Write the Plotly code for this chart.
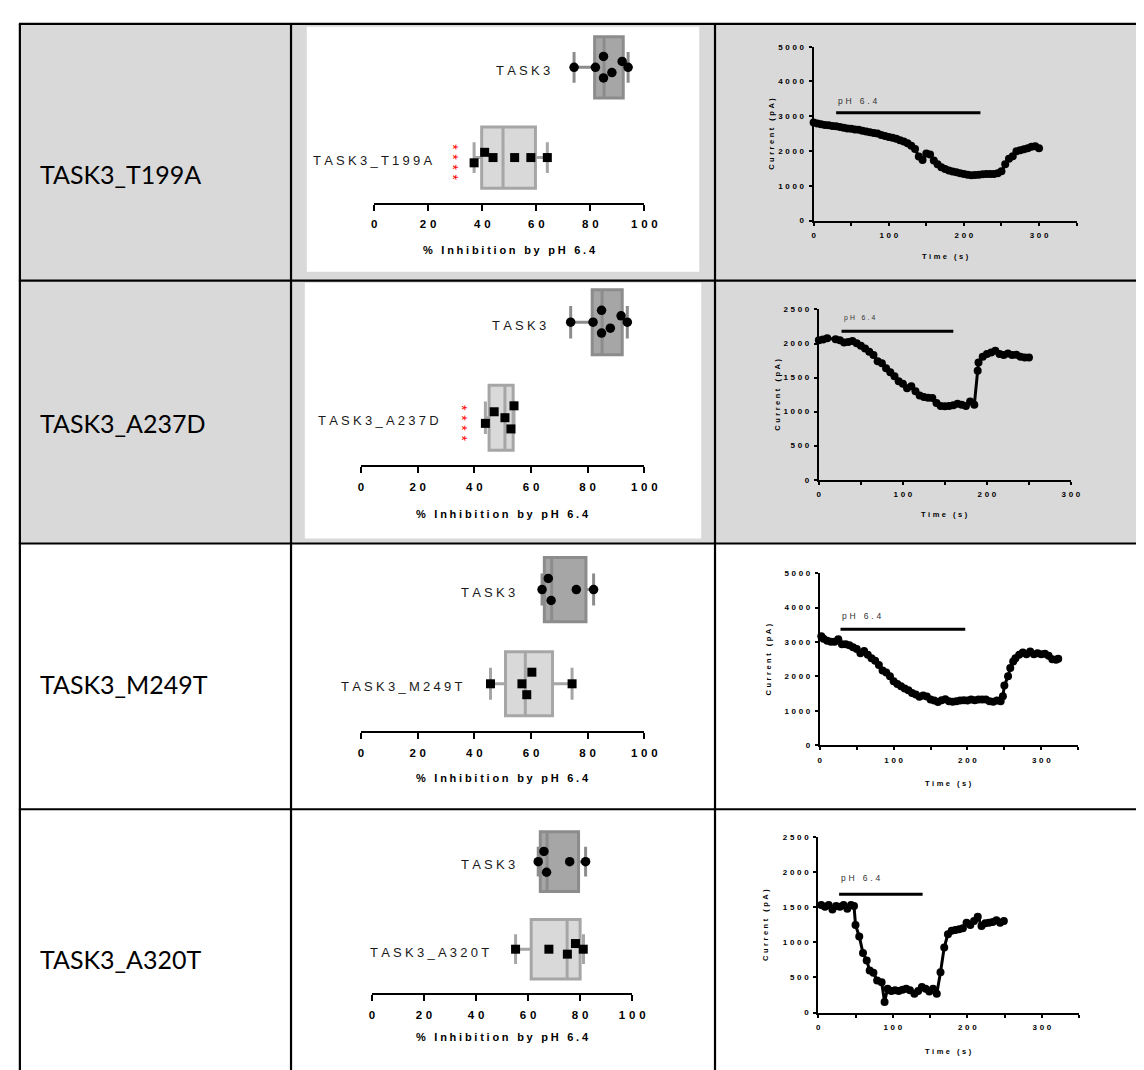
import plotly.graph_objects as go

W, H = 1144, 1070


def px(x):
    return x / W


def py(y):
    return 1 - y / H


def track(s, sep="\u2004"):
    return sep.join(s)


# ---------------- data ----------------
row_labels = ["TASK3_T199A", "TASK3_A237D", "TASK3_M249T", "TASK3_A320T"]
ctrl_name = "TASK3"
signif = ["****", "****", "", ""]

# % inhibition by pH 6.4 (individual cells)
task3_a = [74.0, 81.9, 84.9, 84.9, 88.0, 91.8, 94.0]
task3_b = [63.9, 66.1, 67.1, 76.0, 82.1]
t199a = [37.0, 40.9, 44.0, 52.0, 58.0, 64.1]
a237d = [43.9, 47.0, 50.8, 52.9, 54.0]
m249t = [45.7, 56.8, 58.5, 60.3, 74.5]
a320t = [55.2, 68.0, 75.1, 78.2, 81.2]

# box statistics: [min, q1, median, q3, max]
stats_task3_a = [74.0, 81.6, 85.1, 92.2, 94.0]
stats_task3_b = [63.9, 64.7, 67.3, 79.4, 82.1]
stats_t199a = [37.0, 39.8, 47.7, 59.7, 64.1]
stats_a237d = [43.9, 45.2, 50.8, 53.7, 54.0]
stats_m249t = [45.7, 51.0, 58.0, 67.6, 74.5]
stats_a320t = [55.2, 61.2, 75.0, 80.0, 81.3]

box_ticks = [0, 20, 40, 60, 80, 100]

# current traces (time s, current pA)
time_1 = list(range(0, 301, 5))
current_1 = [2820, 2790, 2770, 2750, 2740, 2720, 2710, 2690, 2670, 2650, 2640,
             2620, 2610, 2580, 2560, 2540, 2520, 2500, 2460, 2430, 2400, 2380,
             2350, 2310, 2270, 2220, 2150, 2060, 1840, 1740, 1930, 1900, 1730,
             1620, 1530, 1480, 1440, 1410, 1390, 1360, 1340, 1320, 1300, 1310,
             1320, 1330, 1340, 1340, 1340, 1360, 1420, 1620, 1780, 1850, 1990,
             2020, 2050, 2080, 2120, 2140, 2080]

time_2 = [0, 5, 10, 20, 25, 30, 35, 40, 45, 50, 55, 60, 65, 70, 75, 80, 85, 90,
          95, 100, 105, 110, 115, 120, 125, 130, 135, 140, 145, 150, 155, 160,
          165, 170, 175, 180, 185, 189, 190, 195, 200, 205, 210, 215, 220, 225,
          230, 235, 240, 245, 250]
current_2 = [2048, 2058, 2078, 2063, 2048, 2015, 2024, 2039, 2005, 1966, 1927,
             1879, 1830, 1738, 1709, 1636, 1578, 1519, 1447, 1408, 1345, 1374,
             1301, 1238, 1214, 1204, 1199, 1126, 1083, 1078, 1083, 1092, 1117,
             1102, 1083, 1150, 1102, 1602, 1723, 1806, 1845, 1869, 1893, 1845,
             1830, 1854, 1830, 1835, 1806, 1796, 1796]

time_3 = [2, 5, 10, 15, 20, 25, 30, 35, 40, 45, 50, 55, 60, 65, 70, 75, 80, 85,
          90, 95, 100, 105, 110, 115, 120, 125, 130, 135, 140, 145, 150, 155,
          160, 165, 170, 175, 180, 185, 190, 195, 200, 205, 210, 215, 220, 225,
          230, 235, 240, 245, 248, 250, 255, 258, 262, 265, 270, 275, 280, 285,
          290, 295, 300, 305, 310, 315, 320, 323]
current_3 = [3170, 3096, 3038, 3010, 3010, 3077, 2933, 2933, 2904, 2846, 2798,
             2673, 2740, 2625, 2529, 2452, 2327, 2173, 2115, 2000, 1856, 1779,
             1712, 1644, 1596, 1519, 1471, 1404, 1442, 1413, 1327, 1298, 1250,
             1308, 1337, 1279, 1260, 1279, 1298, 1308, 1298, 1327, 1308, 1327,
             1327, 1327, 1279, 1260, 1298, 1279, 1423, 1731, 2000, 2240, 2432,
             2529, 2625, 2692, 2644, 2721, 2644, 2673, 2644, 2654, 2596, 2500,
             2481, 2510]

time_4 = [4, 9, 14, 19, 24, 29, 34, 39, 44, 48, 50, 55, 60, 65, 69, 74, 79, 85,
          89, 93, 98, 103, 108, 113, 118, 123, 129, 134, 139, 144, 149, 154,
          159, 164, 169, 174, 179, 184, 189, 194, 199, 204, 209, 214, 219, 224,
          229, 234, 239, 244, 249]
current_4 = [1527, 1504, 1527, 1466, 1513, 1504, 1527, 1476, 1527, 1513, 1245,
             1081, 846, 738, 597, 564, 456, 432, 150, 338, 305, 315, 305, 324,
             338, 315, 268, 305, 362, 338, 300, 338, 268, 573, 926, 1114, 1161,
             1175, 1184, 1198, 1278, 1245, 1302, 1363, 1231, 1269, 1278, 1288,
             1311, 1278, 1302]

# pH 6.4 application window (s) and bar level (pA)
ph_on = [30, 27, 28, 28]
ph_off = [222, 160, 197, 140]
ph_level = [3100, 2180, 3370, 1680]

trace_x_max = [350, 300, 350, 350]
trace_y_max = [5000, 2500, 5000, 2500]
trace_y_step = [1000, 500, 1000, 500]

# ---------------- styling / layout ----------------
GRAY_BG = "#d9d9d9"
CTRL_FILL, CTRL_LINE = "#a6a6a6", "#8c8c8c"
MUT_FILL, MUT_LINE = "#d9d9d9", "#a6a6a6"
FONT = "Liberation Sans"

box_panels = [
    dict(x0=368.3, x100=642.3, axis_y=192.3, sp=91.0, title_y=240,
         ctrl=task3_a, cs=stats_task3_a, mut=t199a, ms=stats_t199a,
         cdy=[0, 0, -11, 10.7, 5.3, -6, 0], mdy=[5.3, -5.3, 0, 0, 0, 0],
         clab=65.7, mlab=22.5, stars=30.3, star_dy=4.7),
    dict(x0=355.0, x100=642.3, axis_y=457.3, sp=96.3, title_y=506,
         ctrl=task3_a, cs=stats_task3_a, mut=a237d, ms=stats_a237d,
         cdy=[0, 0, -12, 11, 6, -6.5, 0], mdy=[5.7, -6, 0, 11.3, -12],
         clab=66.1, mlab=28.2, stars=36.7, star_dy=5.4),
    dict(x0=355.0, x100=642.3, axis_y=725.0, sp=95.0, title_y=773,
         ctrl=task3_b, cs=stats_task3_b, mut=m249t, ms=stats_m249t,
         cdy=[0, -11.3, 11, 0, 0], mdy=[0, 0, 11, -11.7, 0],
         clab=55.1, mlab=36.5, stars=None, star_dy=0),
    dict(x0=366.0, x100=630.0, axis_y=989.3, sp=88.3, title_y=1034,
         ctrl=task3_b, cs=stats_task3_b, mut=a320t, ms=stats_a320t,
         cdy=[0, -10.3, 10.7, 0, 0], mdy=[0, 0, 5, -5.7, 0],
         clab=55.6, mlab=45.7, stars=None, star_dy=0),
]

trace_panels = [
    dict(x0=814.0, x1=1080.7, y0=210.3, y1=35.0, ytitle_x=771, xtitle_y=247,
         t=time_1, c=current_1, ph_font=8.5, ph_shift=12),
    dict(x0=819.3, x1=1075.0, y0=471.7, y1=300.0, ytitle_x=777, xtitle_y=507,
         t=time_2, c=current_2, ph_font=6.8, ph_shift=13.5),
    dict(x0=820.3, x1=1082.3, y0=739.3, y1=566.0, ytitle_x=768, xtitle_y=778,
         t=time_3, c=current_3, ph_font=8.5, ph_shift=13.5),
    dict(x0=818.7, x1=1083.3, y0=1009.0, y1=831.7, ytitle_x=765, xtitle_y=1048,
         t=time_4, c=current_4, ph_font=8.5, ph_shift=16),
]

row_bounds = [12, 271, 536, 804, 1070]
label_y = [163, 414, 678, 955]
white_cells = [(300, 15, 698, 262), (298, 273, 700, 531)]

fig = go.Figure()
layout = {}
annotations = []

# ---------------- box panels ----------------
for i, p in enumerate(box_panels):
    n = i + 1
    xa, ya = f"x{n}", f"y{n}"
    layout[f"xaxis{n}"] = dict(
        domain=[px(p["x0"]), px(p["x100"])], range=[0, 100], anchor=ya,
        showline=True, linecolor="black", linewidth=2, ticks="outside",
        ticklen=6, tickwidth=2, tickcolor="black", showgrid=False,
        zeroline=False, tickvals=box_ticks,
        ticktext=[track(str(v)) for v in box_ticks],
        tickfont=dict(family=FONT, size=11.5, color="black", weight="bold"),
        ticklabelstandoff=4, fixedrange=True)
    top = p["axis_y"] - 2 * p["sp"]
    layout[f"yaxis{n}"] = dict(
        domain=[py(p["axis_y"]), py(top)], range=[-0.5, 1.5], anchor=xa,
        visible=False, fixedrange=True)

    for pos, st, fill, line in [(1, p["cs"], CTRL_FILL, CTRL_LINE),
                                (0, p["ms"], MUT_FILL, MUT_LINE)]:
        fig.add_trace(go.Box(
            orientation="h", y=[pos], lowerfence=[st[0]], q1=[st[1]],
            median=[st[2]], q3=[st[3]], upperfence=[st[4]], width=0.68,
            whiskerwidth=0.5, fillcolor=fill, line=dict(color=line, width=3),
            boxpoints=False, xaxis=xa, yaxis=ya, showlegend=False,
            hoverinfo="skip"))

    fig.add_trace(go.Scatter(
        x=p["ctrl"], y=[1 - d / p["sp"] for d in p["cdy"]], mode="markers",
        marker=dict(symbol="circle", size=9.5, color="black"),
        xaxis=xa, yaxis=ya, showlegend=False, hoverinfo="skip",
        cliponaxis=False))
    fig.add_trace(go.Scatter(
        x=p["mut"], y=[0 - d / p["sp"] for d in p["mdy"]], mode="markers",
        marker=dict(symbol="square", size=9, color="black"),
        xaxis=xa, yaxis=ya, showlegend=False, hoverinfo="skip",
        cliponaxis=False))

    annotations.append(dict(
        x=p["clab"], y=1, xref=xa, yref=ya, xanchor="right", yanchor="middle",
        yshift=-3, text=track(ctrl_name, "\u2005"), showarrow=False,
        font=dict(family=FONT, size=13, color="#1a1a1a")))
    annotations.append(dict(
        x=p["mlab"], y=0, xref=xa, yref=ya, xanchor="right", yanchor="middle",
        yshift=-3, text=track(row_labels[i], "\u2005"), showarrow=False,
        font=dict(family=FONT, size=13, color="#1a1a1a")))
    if p["stars"] is not None and signif[i]:
        # significance stars stacked vertically (one rotated text line)
        annotations.append(dict(
            x=p["stars"], y=0, xref=xa, yref=ya, xanchor="center",
            yanchor="middle", yshift=-p["star_dy"], xshift=-3,
            text=track(signif[i]), textangle=90, showarrow=False,
            font=dict(family=FONT, size=14, color="red")))
    annotations.append(dict(
        x=(px(p["x0"]) + px(p["x100"])) / 2, y=py(p["title_y"]), xref="paper",
        yref="paper", xanchor="center", yanchor="middle", showarrow=False,
        text=track("% Inhibition by pH 6.4", "\u2005"),
        font=dict(family=FONT, size=11, color="black", weight="bold")))

# ---------------- trace panels ----------------
for i, p in enumerate(trace_panels):
    n = i + 5
    xa, ya = f"x{n}", f"y{n}"
    xt = list(range(0, trace_x_max[i] + 1, 50))
    yt = list(range(0, trace_y_max[i] + 1, trace_y_step[i]))
    layout[f"xaxis{n}"] = dict(
        domain=[px(p["x0"]), px(p["x1"])], range=[0, trace_x_max[i]],
        anchor=ya, showline=True, linecolor="black", linewidth=2,
        ticks="outside", ticklen=3, tickwidth=1.5, tickcolor="black",
        showgrid=False, zeroline=False, tickvals=xt,
        ticktext=[track(str(v)) if v % 100 == 0 else "" for v in xt],
        tickfont=dict(family=FONT, size=8, color="black", weight="bold"),
        ticklabelstandoff=3, fixedrange=True)
    layout[f"yaxis{n}"] = dict(
        domain=[py(p["y0"]), py(p["y1"])], range=[0, trace_y_max[i]],
        anchor=xa, showline=True, linecolor="black", linewidth=2,
        ticks="outside", ticklen=3, tickwidth=1.5, tickcolor="black",
        showgrid=False, zeroline=False, tickvals=yt,
        ticktext=[track(str(v)) for v in yt],
        tickfont=dict(family=FONT, size=8, color="black", weight="bold"),
        ticklabelstandoff=3, fixedrange=True)

    fig.add_trace(go.Scatter(
        x=p["t"], y=p["c"], mode="lines+markers",
        line=dict(color="black", width=3),
        marker=dict(symbol="circle", size=8, color="black"),
        xaxis=xa, yaxis=ya, showlegend=False, hoverinfo="skip",
        cliponaxis=False))
    fig.add_trace(go.Scatter(
        x=[ph_on[i], ph_off[i]], y=[ph_level[i], ph_level[i]], mode="lines",
        line=dict(color="black", width=3), xaxis=xa, yaxis=ya,
        showlegend=False, hoverinfo="skip"))
    annotations.append(dict(
        x=ph_on[i], y=ph_level[i], xref=xa, yref=ya, xanchor="left",
        yanchor="middle", yshift=p["ph_shift"], showarrow=False,
        text=track("pH 6.4"),
        font=dict(family=FONT, size=p["ph_font"], color="#333333")))
    annotations.append(dict(
        x=(px(p["x0"]) + px(p["x1"])) / 2, y=py(p["xtitle_y"]), xref="paper",
        yref="paper", xanchor="center", yanchor="middle", showarrow=False,
        text=track("Time (s)"),
        font=dict(family=FONT, size=7.5, color="black", weight="bold")))
    annotations.append(dict(
        x=px(p["ytitle_x"]), y=(py(p["y0"]) + py(p["y1"])) / 2, xref="paper",
        yref="paper", xanchor="center", yanchor="middle", showarrow=False,
        textangle=-90, text=track("Current (pA)"),
        font=dict(family=FONT, size=7.5, color="black", weight="bold")))

# ---------------- table ----------------
shapes = []
shapes.append(dict(type="rect", xref="paper", yref="paper", x0=px(9),
                   x1=px(1144), y0=py(row_bounds[2]), y1=py(row_bounds[0]),
                   fillcolor=GRAY_BG, line=dict(width=0), layer="below"))
for (a, b, c, d) in white_cells:
    shapes.append(dict(type="rect", xref="paper", yref="paper", x0=px(a),
                       x1=px(c), y0=py(d), y1=py(b), fillcolor="white",
                       line=dict(width=0), layer="below"))
for yb in row_bounds[:-1]:
    shapes.append(dict(type="line", xref="paper", yref="paper", x0=px(8),
                       x1=px(1144), y0=py(yb), y1=py(yb),
                       line=dict(color="black", width=2.2)))
for xb in [9, 284, 714]:
    shapes.append(dict(type="line", xref="paper", yref="paper", x0=px(xb),
                       x1=px(xb), y0=py(row_bounds[0]), y1=py(row_bounds[-1]),
                       line=dict(color="black", width=2.2)))

for i, lab in enumerate(row_labels):
    annotations.append(dict(
        x=px(27), y=py(label_y[i]), xref="paper", yref="paper",
        xanchor="left", yanchor="middle", text=lab, showarrow=False,
        font=dict(family="Lato", size=25, color="black")))

fig.update_layout(
    width=W, height=H, margin=dict(l=0, r=0, t=0, b=0),
    paper_bgcolor="white", plot_bgcolor="rgba(0,0,0,0)",
    shapes=shapes, annotations=annotations, showlegend=False, **layout)

fig.write_html("out.html")
